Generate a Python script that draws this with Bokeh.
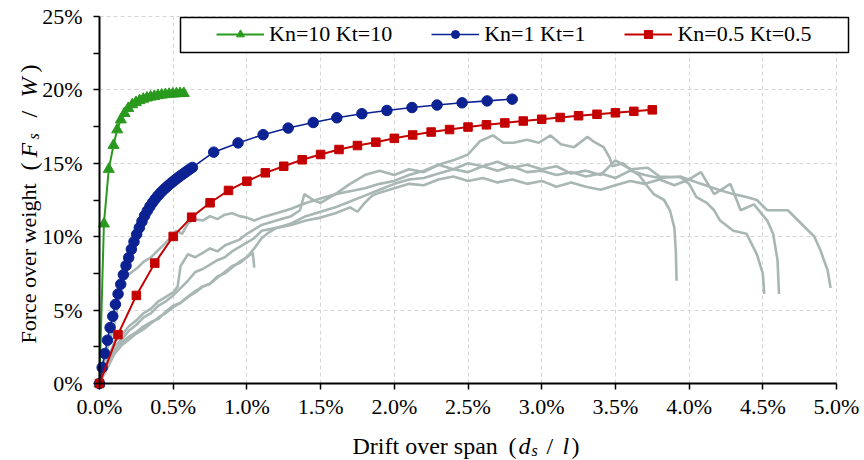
import math
from bokeh.plotting import figure
from bokeh.models import (Range1d, FixedTicker, PrintfTickFormatter, Legend, LegendItem,
                          BoxAnnotation, Label)
from bokeh.embed import file_html
from bokeh.resources import INLINE

FONT = "Liberation Serif"

# ---------------- data (x: drift over span %, y: force over weight %) ----------------
green_x = [0, 0.03, 0.063, 0.095, 0.12, 0.145, 0.17, 0.195, 0.222, 0.247, 0.272, 0.297,
           0.322, 0.347, 0.372, 0.397, 0.422, 0.447, 0.472, 0.497, 0.522, 0.547, 0.572]
green_y = [0, 10.88, 14.6, 16.23, 17.29, 17.97, 18.41, 18.75, 19.0, 19.15, 19.28, 19.38,
           19.46, 19.52, 19.57, 19.62, 19.66, 19.69, 19.71, 19.73, 19.75, 19.76, 19.77]

blue_x = [0, 0.018, 0.036, 0.054, 0.072, 0.09, 0.108, 0.126, 0.144, 0.162, 0.18, 0.198,
          0.216, 0.234, 0.252, 0.27, 0.288, 0.306, 0.324, 0.342, 0.36, 0.378, 0.396, 0.414,
          0.432, 0.45, 0.468, 0.486, 0.504, 0.522, 0.54, 0.558, 0.576, 0.594, 0.612, 0.63,
          0.775, 0.94, 1.11, 1.28, 1.45, 1.61, 1.78, 1.95, 2.12, 2.29, 2.46, 2.63, 2.80]
blue_y = [0, 1.09, 2.04, 2.95, 3.81, 4.58, 5.39, 6.1, 6.76, 7.41, 8.03, 8.57,
          9.14, 9.66, 10.16, 10.61, 11.04, 11.43, 11.76, 12.06, 12.33, 12.57, 12.79, 12.99,
          13.17, 13.34, 13.5, 13.65, 13.8, 13.94, 14.08, 14.21, 14.34, 14.47, 14.6, 14.72,
          15.76, 16.39, 16.95, 17.4, 17.78, 18.1, 18.38, 18.6, 18.8, 18.97, 19.12, 19.25, 19.37]

red_x = [0, 0.125, 0.25, 0.375, 0.5, 0.625, 0.75, 0.875, 1.0, 1.125, 1.25, 1.375, 1.5,
         1.625, 1.75, 1.875, 2.0, 2.125, 2.25, 2.375, 2.5, 2.625, 2.75, 2.875, 3.0, 3.125,
         3.25, 3.375, 3.5, 3.625, 3.75]
red_y = [0, 3.33, 6.0, 8.2, 10.02, 11.33, 12.31, 13.15, 13.78, 14.35, 14.8, 15.24, 15.6,
         15.94, 16.21, 16.44, 16.7, 16.93, 17.13, 17.3, 17.47, 17.62, 17.75, 17.88, 18.0, 18.12,
         18.24, 18.34, 18.44, 18.54, 18.64]

# experimental curves (grey)
test1_x = [0, 0.03, 0.06, 0.1, 0.13, 0.155, 0.18, 0.22, 0.26, 0.3, 0.35, 0.4, 0.45, 0.48,
           0.52, 0.56, 0.6, 0.64, 0.7, 0.75, 0.8, 0.85, 0.9, 0.95, 1.0, 1.05, 1.1, 1.2, 1.3,
           1.4, 1.5, 1.6, 1.7, 1.8, 1.9, 2.0, 2.1, 2.2, 2.3, 2.4, 2.5, 2.58, 2.67, 2.74, 2.81,
           2.9, 2.98, 3.06, 3.13, 3.22, 3.31, 3.35, 3.42, 3.46, 3.48, 3.55, 3.6, 3.66, 3.72,
           3.76, 3.83, 3.87, 3.9, 3.91, 3.915]
test1_y = [0, 1.5, 2.6, 4.0, 5.6, 7.0, 7.3, 7.6, 7.9, 8.3, 8.6, 9.1, 9.6, 9.9,
           10.4, 10.2, 10.9, 11.2, 11.1, 11.4, 11.2, 11.5, 11.6, 11.4, 11.3, 11.1, 11.3, 11.6, 11.9,
           12.3, 12.6, 12.9, 13.1, 13.3, 13.6, 13.8, 14.2, 14.5, 14.9, 15.2, 15.6, 16.5, 16.9, 16.4, 16.4,
           16.6, 16.4, 16.9, 16.3, 16.1, 16.8, 16.5, 16.1, 15.4, 14.8, 15.0, 14.6, 14.2, 13.4,
           12.9, 12.5, 11.8, 10.6, 9.0, 7.0]

test2_x = [0, 0.05, 0.1, 0.15, 0.2, 0.25, 0.3, 0.35, 0.4, 0.45, 0.5, 0.55, 0.6, 0.65, 0.7,
           0.75, 0.8, 0.85, 0.9, 0.95, 1.0, 1.04, 1.05]
test2_y = [0, 1.2, 2.2, 2.8, 3.2, 3.5, 3.9, 4.2, 4.4, 4.9, 5.3, 5.5, 5.9, 6.3, 6.6,
           6.8, 7.2, 7.6, 8.0, 8.2, 8.6, 8.9, 7.9]

test3_x = [0, 0.05, 0.1, 0.15, 0.2, 0.25, 0.3, 0.35, 0.4, 0.45, 0.5, 0.53, 0.55, 0.6, 0.65,
           0.7, 0.75, 0.8, 0.85, 0.9, 0.95, 1.0, 1.05, 1.1, 1.2, 1.3, 1.36, 1.39, 1.45, 1.5,
           1.6, 1.7, 1.8, 1.9, 2.0, 2.1, 2.2, 2.3, 2.4, 2.5, 2.6, 2.7, 2.8, 2.9, 3.0, 3.1,
           3.2, 3.3, 3.4, 3.5, 3.6, 3.72, 3.8, 3.94, 4.0, 4.05, 4.12, 4.17, 4.21, 4.3, 4.39,
           4.46, 4.5, 4.51]
test3_y = [0, 1.5, 2.8, 3.3, 3.9, 4.3, 4.8, 5.1, 5.6, 5.9, 6.2, 6.6, 8.0, 8.8, 8.6,
           8.9, 9.2, 9.0, 9.4, 9.6, 9.8, 10.2, 10.5, 10.8, 11.1, 11.4, 11.8, 12.9, 12.5, 12.3,
           12.9, 13.6, 14.2, 14.5, 14.2, 14.6, 14.4, 14.9, 14.6, 15.0, 14.8, 15.1, 14.7, 14.9, 14.6, 14.8,
           14.3, 14.5, 14.2, 15.2, 14.6, 14.7, 14.1, 14.05, 13.6, 12.7, 12.3, 11.8, 11.1, 10.4, 10.2,
           8.8, 7.5, 6.1]

test4_x = [0, 0.05, 0.1, 0.15, 0.2, 0.25, 0.3, 0.35, 0.4, 0.45, 0.5, 0.55, 0.6, 0.65, 0.7,
           0.75, 0.8, 0.85, 0.9, 0.95, 1.0, 1.05, 1.1, 1.2, 1.3, 1.4, 1.5, 1.6, 1.7, 1.75,
           1.8, 1.85, 1.9, 2.0, 2.1, 2.2, 2.3, 2.4, 2.5, 2.6, 2.7, 2.8, 2.9, 3.0, 3.1, 3.2,
           3.3, 3.4, 3.5, 3.6, 3.7, 3.8, 3.9, 4.0, 4.08, 4.17, 4.28, 4.35, 4.44, 4.53, 4.57,
           4.6, 4.61]
test4_y = [0, 1.2, 2.5, 3.0, 3.6, 4.0, 4.5, 4.8, 5.3, 5.6, 6.0, 6.5, 7.0, 7.6, 7.8,
           8.1, 8.4, 8.6, 9.0, 9.3, 9.6, 9.9, 10.4, 10.6, 10.8, 11.1, 11.3, 11.6, 12.0, 11.7,
           12.3, 12.8, 13.0, 13.3, 13.6, 13.5, 13.9, 14.1, 13.8, 14.0, 13.7, 13.9, 13.6, 13.8, 13.4, 13.7,
           13.4, 13.2, 13.5, 13.8, 13.6, 13.9, 13.5, 13.9, 14.4, 12.9, 13.6, 11.8, 12.2, 11.1, 10.2,
           8.4, 6.1]

test5_x = [0, 0.05, 0.1, 0.15, 0.2, 0.25, 0.3, 0.35, 0.4, 0.45, 0.5, 0.55, 0.6, 0.65, 0.7,
           0.75, 0.8, 0.85, 0.9, 0.95, 1.0, 1.05, 1.1, 1.15, 1.2, 1.3, 1.4, 1.5, 1.6, 1.7,
           1.8, 1.9, 2.0, 2.1, 2.2, 2.3, 2.4, 2.5, 2.6, 2.7, 2.8, 2.9, 3.0, 3.1, 3.2, 3.3,
           3.4, 3.5, 3.6, 3.7, 3.8, 3.94, 4.08, 4.2, 4.3, 4.39, 4.46, 4.53, 4.67, 4.76, 4.85,
           4.89, 4.94, 4.96]
test5_y = [0, 1.0, 2.0, 2.6, 3.0, 3.4, 3.7, 4.1, 4.5, 4.8, 5.2, 5.5, 5.9, 6.2, 6.6,
           6.8, 7.3, 7.5, 7.9, 8.3, 8.6, 9.2, 9.9, 10.3, 10.6, 10.9, 11.4, 11.7, 12.0, 12.4,
           12.8, 13.2, 13.6, 13.9, 14.0, 14.3, 14.6, 14.4, 14.8, 14.5, 14.8, 14.4, 14.5, 14.2, 14.4, 14.1,
           14.3, 14.0, 14.5, 14.2, 14.0, 14.1, 13.6, 13.2, 12.9, 12.7, 12.5, 11.8, 11.8, 10.9, 10.0,
           9.1, 7.7, 6.5]

x_ticks = [0, 0.5, 1.0, 1.5, 2.0, 2.5, 3.0, 3.5, 4.0, 4.5, 5.0]
y_ticks = [0, 5, 10, 15, 20, 25]
y_minor = [2.5, 7.5, 12.5, 17.5, 22.5]

labels = ["Kn=10 Kt=10", "Kn=1 Kt=1", "Kn=0.5 Kt=0.5"]

# ---------------- figure ----------------
# The frame covers the whole canvas; the axes are pinned at x=0 / y=0 so that the
# axis titles (drawn as labels) are not clipped.
W, H = 864, 460
LEFT, RIGHT, TOP, BOTTOM = 99, 28, 16, 77
PX_X = (W - LEFT - RIGHT) / 5.0
PX_Y = (H - TOP - BOTTOM) / 25.0

p = figure(width=W, height=H, output_backend="svg", toolbar_location=None,
           x_range=Range1d(-LEFT / PX_X, 5 + RIGHT / PX_X),
           y_range=Range1d(-BOTTOM / PX_Y, 25 + TOP / PX_Y),
           min_border_left=0, min_border_right=0, min_border_top=0, min_border_bottom=0)
p.outline_line_color = None
p.background_fill_color = "white"
p.border_fill_color = "white"

for ax in (p.xaxis[0], p.yaxis[0]):
    ax.axis_line_color = "black"
    ax.axis_line_width = 2
    ax.major_tick_line_color = "black"
    ax.major_tick_line_width = 1.5
    ax.major_tick_out = 6
    ax.major_tick_in = 0
    ax.minor_tick_line_color = "black"
    ax.minor_tick_line_width = 1.5
    ax.minor_tick_out = 6
    ax.minor_tick_in = 0
    ax.major_label_text_font = FONT
    ax.major_label_text_font_size = "22px"
    ax.major_label_text_color = "black"

p.xaxis.fixed_location = 0
p.xaxis.bounds = (0, 5)
p.xaxis.ticker = FixedTicker(ticks=x_ticks, minor_ticks=[])
p.xaxis.formatter = PrintfTickFormatter(format="%.1f%%")
p.xaxis.major_label_standoff = 4
p.yaxis.fixed_location = 0
p.yaxis.bounds = (0, 25)
p.yaxis.ticker = FixedTicker(ticks=y_ticks, minor_ticks=y_minor)
p.yaxis.formatter = PrintfTickFormatter(format="%d%%")
p.yaxis.major_label_standoff = 11

for g in (p.xgrid[0], p.ygrid[0]):
    g.grid_line_color = "#d6d6d6"
    g.grid_line_dash = "4 3"
    g.grid_line_width = 1
p.xgrid.bounds = (0, 5)
p.ygrid.bounds = (0, 25)
try:
    p.xgrid[0].cross_bounds = (0, 25)
    p.ygrid[0].cross_bounds = (0, 5)
except Exception:
    for kw in (dict(right=0), dict(left=5), dict(top=0), dict(bottom=25)):
        p.add_layout(BoxAnnotation(fill_color="white", fill_alpha=1, line_alpha=0,
                                   level="underlay", **kw))

GREY = "#a8b7b4"
for tx, ty in ((test1_x, test1_y), (test2_x, test2_y), (test3_x, test3_y),
               (test4_x, test4_y), (test5_x, test5_y)):
    p.line(tx, ty, line_color=GREY, line_width=2.6)

GREEN, BLUE, RED = "#2a9a1e", "#0c2192", "#c40000"
gl = p.line(green_x, green_y, line_color=GREEN, line_width=2)
gs = p.scatter(green_x, green_y, marker="triangle", size=11, fill_color=GREEN, line_color=GREEN)
bl = p.line(blue_x, blue_y, line_color=BLUE, line_width=1.6)
bs = p.scatter(blue_x, blue_y, marker="circle", size=10.5, fill_color=BLUE, line_color=BLUE)
rl = p.line(red_x, red_y, line_color=RED, line_width=2)
rs = p.scatter(red_x, red_y, marker="square", size=8.5, fill_color=RED, line_color=RED)

# legend frame (canvas px 180..848 x 17..52)
p.add_layout(BoxAnnotation(left=(180 - LEFT) / PX_X, right=(848 - LEFT) / PX_X,
                           bottom=(H - BOTTOM - 52) / PX_Y, top=(H - BOTTOM - 17) / PX_Y,
                           fill_color="white", fill_alpha=1.0,
                           line_color="black", line_width=1.5, line_alpha=1.0))
legend = Legend(items=[LegendItem(label=labels[0], renderers=[gl, gs]),
                       LegendItem(label=labels[1], renderers=[bl, bs]),
                       LegendItem(label=labels[2], renderers=[rl, rs])],
                orientation="horizontal", location=(216, H - 46.5), padding=0, margin=0,
                spacing=39, label_standoff=5, glyph_width=48, glyph_height=20,
                border_line_alpha=0, background_fill_alpha=0,
                label_text_font=FONT, label_text_font_size="22px", label_text_color="black")
p.add_layout(legend)


def txt(s, cx, cy, size, style="normal", angle=0.0):
    # cx, cy: canvas pixel position of the text anchor (cy measured from the top)
    p.add_layout(Label(x=cx, y=H - cy, x_units="screen", y_units="screen", text=s,
                       text_font=FONT, text_font_size=f"{size}px", text_font_style=style,
                       text_color="black", angle=angle, text_align="left",
                       text_baseline="alphabetic"))


# x axis title: Drift over span  (d_s / l)
bx = 445
txt("Drift over span", 352, bx, 24)
txt("(", 508, bx, 24)
txt("d", 518, bx, 24, "italic")
txt("s", 531, bx + 5, 16, "italic")
txt("/", 546, bx, 24)
txt("l", 562, bx, 24, "italic")
txt(")", 571, bx, 24)

# y axis title: Force over weight  (F_s / W), reading upwards
A = math.pi / 2
by = 28
txt("Force over weight", by, 343, 22, angle=A)
txt("(", by, 170, 24, angle=A)
txt("F", by, 157, 24, "italic", angle=A)
txt("s", by + 5, 139, 16, "italic", angle=A)
txt("/", by, 117, 24, angle=A)
txt("W", by, 97, 24, "italic", angle=A)
txt(")", by, 72, 24, angle=A)

open("out.html", "w").write(file_html(p, INLINE))
